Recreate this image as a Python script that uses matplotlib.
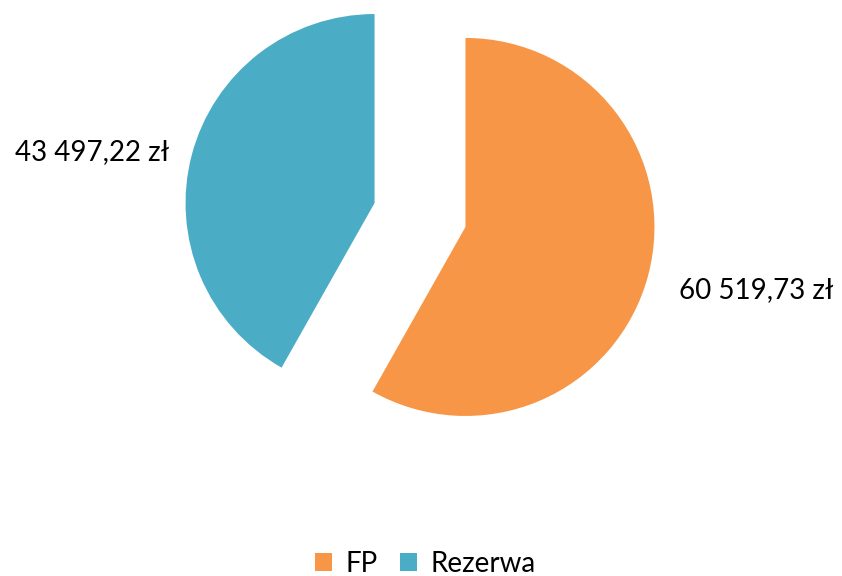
import matplotlib.pyplot as plt

labels = ['FP', 'Rezerwa']
values = [60519.73, 43497.22]
value_labels = ['60 519,73 zł', '43 497,22 zł']
colors = ['#F79646', '#4BACC6']

plt.rcParams['font.family'] = ['Lato', 'DejaVu Sans']

fig = plt.figure(figsize=(8.42, 5.76), dpi=100)
ax = fig.add_axes([0, 0, 1, 1])

# explode is in data units here (radius 189)
wedges, _ = ax.pie(values, colors=colors, startangle=90, counterclock=False,
                   explode=[47, 47], radius=189, center=(420, 361),
                   frame=True)
ax.set_xlim(0, 842)
ax.set_ylim(0, 576)
ax.axis('off')

ax.text(756, 286, value_labels[0], ha='center', va='center', fontsize=20)
ax.text(92, 424, value_labels[1], ha='center', va='center', fontsize=20)

ax.legend(wedges, labels, loc='lower center', bbox_to_anchor=(0.505, -0.045),
          ncol=2, frameon=False, fontsize=20, handlelength=0.6,
          handleheight=0.6, handletextpad=0.5, columnspacing=0.8)

fig.savefig('out.png', dpi=100)
